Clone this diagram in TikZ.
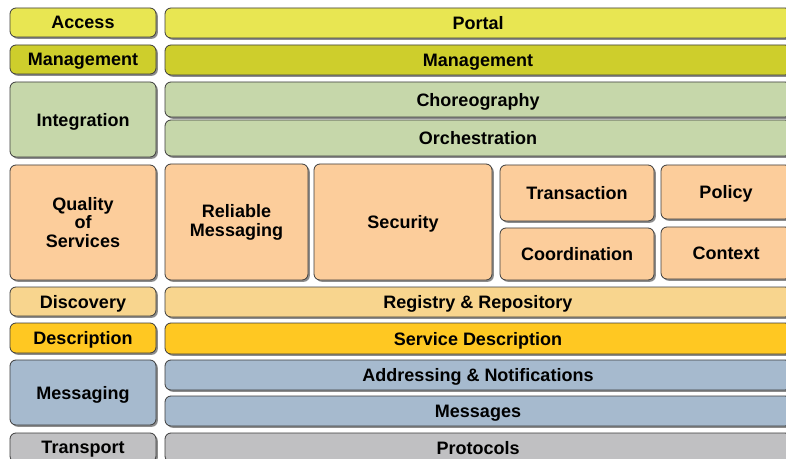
\documentclass[tikz,border=0pt]{standalone}
\usepackage{fontspec}
\setmainfont{Liberation Sans}
\usetikzlibrary{shadows}
\definecolor{cAccess}{RGB}{232,230,82}
\definecolor{cMgmt}{RGB}{206,206,44}
\definecolor{cInteg}{RGB}{198,215,170}
\definecolor{cQos}{RGB}{252,205,155}
\definecolor{cDisc}{RGB}{248,213,142}
\definecolor{cDesc}{RGB}{255,200,34}
\definecolor{cMsg}{RGB}{166,186,206}
\definecolor{cTrans}{RGB}{192,192,194}
\definecolor{cEdge}{RGB}{60,60,60}
\tikzset{
  layer/.style={draw=cEdge, line width=0.8pt, rounded corners=6pt, inner sep=0pt,
    align=center, text=black,
    font=\fontsize{18}{18.8}\selectfont\bfseries,
    drop shadow={shadow xshift=1.8pt, shadow yshift=-1.8pt, fill=black!45, opacity=1}}
}
% \lbox[extra]{name}{x1}{y1}{x2}{y2}{colour}{text}   (pixel coordinates, y down)
\newcommand{\lbox}[8][text depth=0pt]{%
  \node[layer, #1, fill=#7, minimum width={(#5-#3)*1pt}, minimum height={(#6-#4)*1pt}]
    (#2) at ({(#3+#5)/2},{458-(#4+#6)/2}) {#8};}
\begin{document}
\begin{tikzpicture}[x=1pt,y=1pt]
\useasboundingbox (0,0) rectangle (786,458);
\fill[white] (0,0) rectangle (786,458);
\clip (0,0) rectangle (786,458);
% left column
\lbox{access}{10}{8}{156}{37}{cAccess}{Access}
\lbox{mgmtL}{10}{45}{156}{74}{cMgmt}{Management}
\lbox{integ}{10}{82}{156}{157}{cInteg}{Integration}
\lbox[]{qos}{10}{165}{156}{280}{cQos}{Quality\\of\\Services}
\lbox{disc}{10}{287}{156}{316}{cDisc}{Discovery}
\lbox{desc}{10}{323}{156}{353}{cDesc}{Description}
\lbox{msg}{10}{360}{156}{425}{cMsg}{Messaging}
\lbox{transp}{10}{433}{156}{462}{cTrans}{Transport}
% right side
\lbox{portal}{165}{8}{791}{38}{cAccess}{Portal}
\lbox{mgmtR}{165}{45}{791}{75}{cMgmt}{Management}
\lbox{choreo}{165}{82}{791}{117}{cInteg}{Choreography}
\lbox{orch}{165}{120}{791}{156}{cInteg}{Orchestration}
\lbox[]{rm}{165}{164}{308}{280}{cQos}{Reliable\\Messaging}
\lbox{sec}{314}{164}{492}{280}{cQos}{Security}
\lbox{tx}{500}{165}{654}{221}{cQos}{Transaction}
\lbox{coord}{500}{228}{654}{280}{cQos}{Coordination}
\lbox{policy}{661}{165}{791}{219}{cQos}{Policy}
\lbox{context}{661}{227}{791}{279}{cQos}{Context}
\lbox{registry}{165}{287}{791}{317}{cDisc}{Registry \& Repository}
\lbox{sdesc}{165}{323}{791}{354}{cDesc}{Service Description}
\lbox{addr}{165}{360}{791}{390}{cMsg}{Addressing \& Notifications}
\lbox{msgs}{165}{396}{791}{426}{cMsg}{Messages}
\lbox{proto}{165}{433}{791}{462}{cTrans}{Protocols}
\end{tikzpicture}
\end{document}
